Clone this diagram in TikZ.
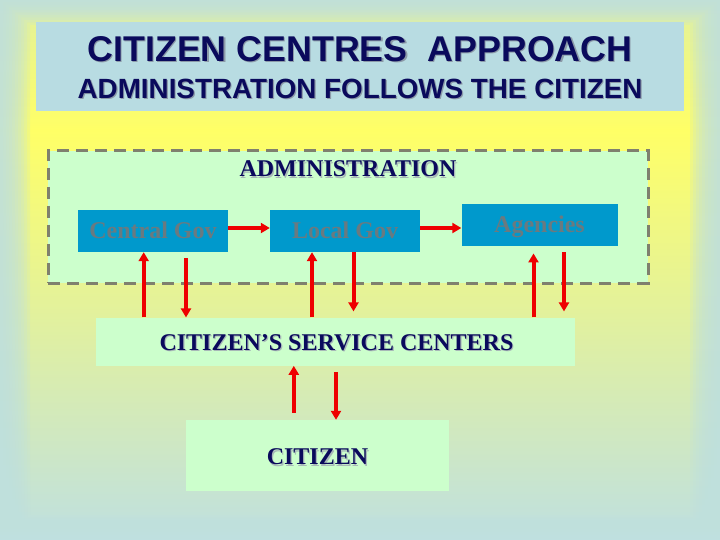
\documentclass[tikz,border=0pt]{standalone}
\usepackage{fontspec}
\setmainfont{Liberation Serif}
\setsansfont{Liberation Sans}
\usepackage{tikz}
\usetikzlibrary{arrows.meta}

\definecolor{bgblue}{HTML}{BFE0E0}
\definecolor{glow}{HTML}{FFFF66}
\definecolor{titleblue}{HTML}{B8DCE2}
\definecolor{paleGreen}{HTML}{CCFFCC}
\definecolor{govblue}{HTML}{0099CC}
\definecolor{govtext}{HTML}{6A7A80}
\definecolor{navy}{HTML}{0A0A5C}
\definecolor{shade}{HTML}{8C9AA8}
\definecolor{softshade}{HTML}{A8B8B8}
\definecolor{frame}{HTML}{7F806E}
\definecolor{arrowred}{HTML}{EE0000}

% text with a small grey drop shadow
\newcommand{\shadowed}[2][shade]{\makebox[0pt][l]{\hspace{1.2pt}\raisebox{-1.2pt}{\textcolor{#1}{#2}}}#2}

\begin{document}
\begin{tikzpicture}[x=1pt,y=-1pt,>={Triangle[length=9pt,width=10pt]},
	arr/.style={->,draw=arrowred,line width=4pt},
	head/.style={text=navy,text depth=0pt,inner sep=0pt},
	lbl/.style={font=\rmfamily\bfseries\fontsize{24}{28}\selectfont,text=navy,text height=15.9pt,text depth=0pt,inner sep=0pt},
	gov box/.style={fill=govblue,text=govtext,font=\rmfamily\bfseries\fontsize{24}{28}\selectfont,minimum width=150pt,minimum height=42pt,text height=15.9pt,text depth=0pt,inner sep=0pt},
	green box/.style={fill=paleGreen,inner sep=0pt}]
	
	\useasboundingbox (0,0) rectangle (720,540);
	% background
	\fill[bgblue] (0,0) rectangle (720,540);
	\shade[top color=glow!55!bgblue,bottom color=glow] (0,0) rectangle (720,130);
	\shade[top color=glow,bottom color=bgblue] (0,130) rectangle (720,540);
	\foreach \i in {1,...,10}
	\fill[bgblue,opacity=0.2,even odd rule] (0,0) rectangle (720,540) (3*\i,2.5*\i) rectangle (720-3*\i,540-2.5*\i);
	
	\node[fill=titleblue,minimum width=648pt,minimum height=89pt,inner sep=0pt] (title) at (360,66.5) {};
	\node[head,font=\sffamily\bfseries\fontsize{35.8}{40}\selectfont,text height=25.6pt] (heading) at (360,49) {\shadowed{CITIZEN CENTRES~~APPROACH}};
	\node[head,font=\sffamily\bfseries\fontsize{27.8}{32}\selectfont,text height=19.9pt] (subheading) at (360,88.5) {\shadowed{ADMINISTRATION FOLLOWS THE CITIZEN}};
	
	\node[green box,draw=frame,line width=3pt,dash pattern=on 12pt off 7pt,minimum width=600pt,minimum height=132pt] (admin) at (348,217) {};
	\node[lbl] (adminlabel) at (348,169) {\shadowed[softshade]{ADMINISTRATION}};
	
	\node[gov box] (central) at (153,231) {Central Gov};
	\node[gov box] (local) at (345,231) {Local Gov};
	\node[gov box,minimum width=156pt,minimum height=41.5pt] (agencies) at (539.5,225) {Agencies};
	
	\node[green box,minimum width=479pt,minimum height=48pt] (centers) at (335.9,341.6) {};
	\node[lbl] (centerslabel) at (336.5,342.6) {\shadowed[softshade]{CITIZEN’S SERVICE CENTERS}};
	
	\node[green box,minimum width=263pt,minimum height=71.4pt] (citizen) at (317.5,455.7) {};
	\node[lbl] (citizenlabel) at (317.5,457) {\shadowed[softshade]{CITIZEN}};
	
	% chain of administration
	\draw[arr] ([yshift=3pt]central.east) -- ([yshift=3pt]central.east -| local.west);
	\draw[arr] ([yshift=3pt]local.east) -- ([yshift=3pt]local.east -| agencies.west);
	
	% administration <-> service centers
	\draw[arr] ([xshift=-9.3pt]central.south |- centers.north) -- ([xshift=-9.3pt]central.south);
	\draw[arr,shorten <=6pt] ([xshift=33pt]central.south) -- ([xshift=33pt]central.south |- centers.north);
	\draw[arr] ([xshift=-33pt]local.south |- centers.north) -- ([xshift=-33pt]local.south);
	\draw[arr,shorten >=6pt] ([xshift=8.5pt]local.south) -- ([xshift=8.5pt]local.south |- centers.north);
	\draw[arr,shorten >=7.5pt] ([xshift=-6pt]agencies.south |- centers.north) -- ([xshift=-6pt]agencies.south);
	\draw[arr,shorten <=6.5pt,shorten >=6pt] ([xshift=24.5pt]agencies.south) -- ([xshift=24.5pt]agencies.south |- centers.north);
	
	% service centers <-> citizen
	\draw[arr,shorten <=7pt] ([xshift=-23.7pt]citizen.north) -- ([xshift=-23.7pt]citizen.north |- centers.south);
	\draw[arr,shorten <=6.3pt] ([xshift=18.5pt]citizen.north |- centers.south) -- ([xshift=18.5pt]citizen.north);
	
\end{tikzpicture}
\end{document}
